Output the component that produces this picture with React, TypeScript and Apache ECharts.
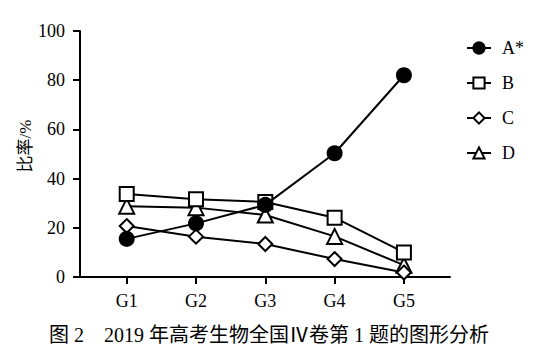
import React, { useEffect, useRef } from "react";
import * as echarts from "echarts";

const categories = ["G1", "G2", "G3", "G4", "G5"];
const seriesNames = ["A*", "B", "C", "D"];
const valuesA = [15.5, 21.8, 29.3, 50.3, 82];
const valuesB = [33.7, 31.6, 30.5, 24.1, 10];
const valuesC = [20.7, 16.4, 13.4, 7.3, 1.8];
const valuesD = [28.8, 28.2, 25.2, 16.5, 4.8];
const yTicks = [0, 20, 40, 60, 80, 100];
const yName = "比率/%";
const caption = "图 2　2019 年高考生物全国Ⅳ卷第 1 题的图形分析";

const serif = "'Liberation Serif', 'Times New Roman', 'Noto Sans CJK SC', serif";

export default function App() {
  const ref = useRef<HTMLDivElement>(null);
  useEffect(() => {
    if (!ref.current) return;
    const chart = echarts.init(ref.current, null, { renderer: "svg" });
    const symbols = ["circle", "rect", "diamond", "triangle"];
    const all = [valuesA, valuesB, valuesC, valuesD];
    const series = all.map((vals, i) => ({
      name: seriesNames[i],
      type: "line",
      data: vals.map((v, j) => [j + 1, v]),
      symbol: symbols[i],
      symbolSize: i === 3 ? 15 : 14,
      showSymbol: true,
      z: 10 - i,
      lineStyle: { color: "#000", width: 2 },
      itemStyle: {
        color: i === 0 ? "#000" : "#fff",
        borderColor: "#000",
        borderWidth: 2,
      },
    }));
    chart.setOption({
      animation: false,
      backgroundColor: "#fff",
      textStyle: { fontFamily: serif },
      grid: { left: 80, top: 31, right: 88, bottom: 84 },
      legend: {
        orient: "vertical",
        left: 461,
        top: 34,
        itemWidth: 24,
        itemHeight: 14,
        itemGap: 17,
        data: seriesNames,
        textStyle: {
          fontFamily: serif,
          fontSize: 18,
          color: "#000",
          padding: [0, 0, 0, 6],
        },
      },
      xAxis: {
        type: "value",
        min: 0.326,
        max: 5.665,
        splitLine: { show: false },
        axisLine: { lineStyle: { color: "#000", width: 2 } },
        axisTick: {
          show: true,
          customValues: [1, 2, 3, 4, 5],
          length: 7,
          lineStyle: { color: "#000", width: 2 },
        },
        axisLabel: {
          customValues: [1, 2, 3, 4, 5],
          formatter: (v: number) => categories[Math.round(v) - 1] ?? "",
          margin: 15,
          color: "#000",
          fontFamily: serif,
          fontSize: 18,
        },
      },
      yAxis: {
        type: "value",
        min: 0,
        max: 100,
        interval: 20,
        splitLine: { show: false },
        axisLine: { show: true, lineStyle: { color: "#000", width: 2 } },
        axisTick: { show: true, length: 7, lineStyle: { color: "#000", width: 2 } },
        axisLabel: {
          margin: 15,
          color: "#000",
          fontFamily: serif,
          fontSize: 18,
          formatter: (v: number) => (yTicks.includes(v) ? String(v) : ""),
        },
      },
      graphic: [
        {
          type: "text",
          x: 25,
          y: 146,
          rotation: Math.PI / 2,
          style: {
            text: yName,
            fontFamily: serif,
            fontSize: 17,
            fill: "#000",
            align: "center",
            verticalAlign: "middle",
          },
        },
        {
          type: "text",
          x: 269,
          y: 335,
          style: {
            text: caption,
            fontFamily: serif,
            fontSize: 20,
            fill: "#000",
            align: "center",
            verticalAlign: "middle",
          },
        },
      ],
      series,
    });
    return () => chart.dispose();
  }, []);
  return <div ref={ref} style={{ width: 538, height: 361, margin: -8 }} />;
}
